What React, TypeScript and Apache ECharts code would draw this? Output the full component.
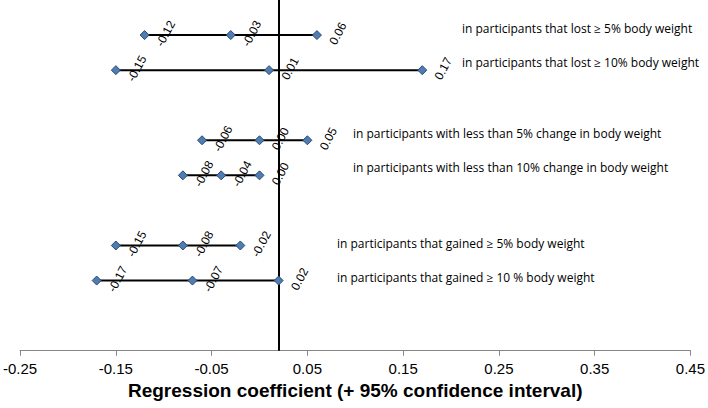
import React, { useEffect, useRef } from "react";
import * as echarts from "echarts";

// Subgroup descriptions (one row each, top to bottom)
const rowLabels = [
  "in participants that lost \u2265 5% body weight",
  "in participants that lost \u2265 10% body weight",
  "in participants with less than 5% change in body weight",
  "in participants with less than 10% change in body weight",
  "in participants that gained \u2265 5% body weight",
  "in participants that gained \u2265 10 % body weight",
];
// Row slot on the vertical scale (gaps between groups)
const rowSlots = [1, 2, 4, 5, 7, 8];
const lowerCI = [-0.12, -0.15, -0.06, -0.08, -0.15, -0.17];
const estimates = [-0.03, 0.01, 0.0, -0.04, -0.08, -0.07];
const upperCI = [0.06, 0.17, 0.05, 0.0, -0.02, 0.02];
const referenceValue = 0.023;
const xTicks = { min: -0.25, max: 0.45, step: 0.1 };
const axisTitle = "Regression coefficient (+ 95% confidence interval)";

// Text anchor positions (pixels) for the row descriptions
const textLeft = [462, 462, 353, 353, 337, 337];
const textTop = [22, 56, 127, 161, 237, 271];

export default function App() {
  const ref = useRef<HTMLDivElement>(null);
  useEffect(() => {
    if (!ref.current) return;
    const chart = echarts.init(ref.current, undefined, { renderer: "svg" });
    const series: any[] = rowSlots.map((slot, i) => ({
      type: "line",
      data: [
        [lowerCI[i], slot],
        [estimates[i], slot],
        [upperCI[i], slot],
      ],
      symbol: "diamond",
      symbolSize: 9,
      showAllSymbol: true,
      lineStyle: { color: "#000", width: 2 },
      itemStyle: { color: "#4F7CB3", borderColor: "#2C4A70", borderWidth: 1 },
      label: {
        show: true,
        formatter: (p: any) => p.value[0].toFixed(2),
        position: [26, 3.5],
        rotate: 62,
        align: "center",
        verticalAlign: "middle",
        fontSize: 12,
        fontFamily: "Liberation Sans, Arial",
        color: "#000",
      },
      z: 3,
    }));
    series[0].markLine = {
      silent: true,
      symbol: "none",
      label: { show: false },
      lineStyle: { color: "#000", width: 2, type: "solid" },
      data: [{ xAxis: referenceValue }],
      z: 2,
    };
    const option: any = {
      animation: false,
      grid: { left: 17.7, right: 15, top: 0, bottom: 57.3, containLabel: false },
      xAxis: {
        type: "value",
        min: xTicks.min,
        max: xTicks.max,
        interval: xTicks.step,
        axisLine: { show: true, onZero: false, lineStyle: { color: "#868686", width: 1 } },
        axisTick: { show: true, inside: false, length: 5, lineStyle: { color: "#868686" } },
        splitLine: { show: false },
        axisLabel: {
          formatter: (v: number) => v.toFixed(2),
          fontSize: 15,
          fontFamily: "Liberation Sans, Arial",
          color: "#000",
          margin: 10,
        },
        name: axisTitle,
        nameLocation: "middle",
        nameGap: 21,
        nameTextStyle: {
          fontSize: 19,
          fontWeight: "bold",
          fontFamily: "Liberation Sans, Arial",
          color: "#000",
        },
      },
      yAxis: { type: "value", min: 0, max: 10, inverse: true, show: false },
      series,
    };
    chart.setOption(option);
    const graphics = rowLabels.map((t, i) => ({
      type: "text",
      left: textLeft[i],
      top: textTop[i],
      style: {
        text: t,
        fontSize: 12,
        fontFamily: "Open Sans, Noto Sans, sans-serif",
        fill: "#000",
      },
    }));
    chart.setOption({ graphic: graphics });
    return () => chart.dispose();
  }, []);
  return <div ref={ref} style={{ width: 708, height: 408, position: "absolute", left: 0, top: 0 }} />;
}
